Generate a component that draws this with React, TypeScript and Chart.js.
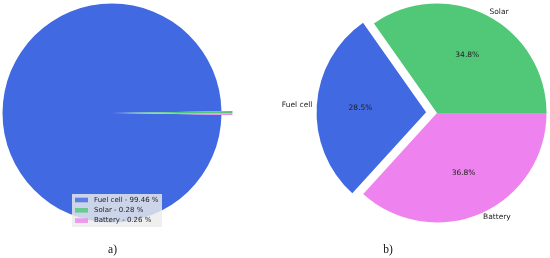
import React, { useEffect, useRef } from "react";
import { Chart, ArcElement, PieController } from "chart.js";

Chart.register(ArcElement, PieController);

// ---- data ----
const sourceLabels = ["Fuel cell", "Solar", "Battery"];
const sourceColors = ["#4169E1", "#50C878", "#EE82EE"];
const shareA = [99.46, 0.28, 0.26];
const shareB = [28.5, 34.8, 36.8];
const explodeA = [0, 0.1, 0.1];
const explodeB = [0.1, 0, 0];
const captionA = "a)";
const captionB = "b)";

const sum = (a: number[]) => a.reduce((s, v) => s + v, 0);

// pure-translation explode (matplotlib style)
const explodePlugin = {
  id: "explode",
  afterDatasetUpdate(chart: any, args: any, opts: any) {
    const fr: number[] = opts.fractions || [];
    const meta = chart.getDatasetMeta(args.index);
    meta.data.forEach((arc: any, i: number) => {
      const f = fr[i] || 0;
      if (!f) return;
      const mid = (arc.startAngle + arc.endAngle) / 2;
      const d = f * arc.outerRadius;
      arc.x += Math.cos(mid) * d;
      arc.y += Math.sin(mid) * d;
    });
  },
};

const sliceLabelPlugin = {
  id: "sliceLabels",
  afterDatasetsDraw(chart: any, _args: any, opts: any) {
    if (!opts || !opts.enabled) return;
    const ctx = chart.ctx;
    const meta = chart.getDatasetMeta(0);
    const values: number[] = chart.data.datasets[0].data;
    const total = sum(values);
    ctx.save();
    ctx.font = opts.font;
    ctx.fillStyle = opts.color;
    ctx.textBaseline = "middle";
    meta.data.forEach((arc: any, i: number) => {
      const mid = (arc.startAngle + arc.endAngle) / 2;
      const c = Math.cos(mid);
      const s = Math.sin(mid);
      const R = arc.outerRadius;
      ctx.textAlign = "center";
      ctx.fillText(
        `${((values[i] / total) * 100).toFixed(1)}%`,
        arc.x + c * R * opts.pctDistance,
        arc.y + s * R * opts.pctDistance
      );
      ctx.textAlign = c < 0 ? "right" : "left";
      ctx.fillText(
        chart.data.labels[i],
        arc.x + c * R * opts.labelDistance,
        arc.y + s * R * opts.labelDistance
      );
    });
    ctx.restore();
  },
};

const boxLegendPlugin = {
  id: "boxLegend",
  afterDatasetsDraw(chart: any, _args: any, opts: any) {
    if (!opts || !opts.enabled) return;
    const ctx = chart.ctx;
    const values: number[] = chart.data.datasets[0].data;
    const colors: string[] = chart.data.datasets[0].backgroundColor;
    const labels: string[] = chart.data.labels;
    ctx.save();
    ctx.fillStyle = opts.background;
    ctx.fillRect(opts.x, opts.y, opts.width, opts.height);
    ctx.font = opts.font;
    ctx.textBaseline = "middle";
    ctx.textAlign = "left";
    labels.forEach((lab, i) => {
      const cy = opts.y + opts.firstRow + i * opts.rowGap;
      ctx.globalAlpha = 0.8;
      ctx.fillStyle = colors[i];
      ctx.fillRect(opts.x + 3, cy - 2.3, 13, 4.6);
      ctx.globalAlpha = 1;
      ctx.fillStyle = opts.color;
      ctx.fillText(`${lab} - ${values[i].toFixed(2)} %`, opts.x + 22, cy);
    });
    ctx.restore();
  },
};

function makePie(
  canvas: HTMLCanvasElement,
  values: number[],
  explode: number[],
  rotation: number,
  padding: any,
  extra: any
) {
  return new Chart(canvas, {
    type: "pie",
    data: {
      labels: sourceLabels,
      datasets: [
        {
          data: values,
          backgroundColor: sourceColors,
          borderWidth: 0,
          clip: false as any,
        },
      ],
    },
    options: {
      responsive: false,
      animation: false,
      events: [],
      rotation,
      radius: 109.5,
      layout: { padding },
      plugins: {
        legend: { display: false },
        tooltip: { enabled: false },
        explode: { fractions: explode },
        ...extra,
      } as any,
    } as any,
    plugins: [explodePlugin, sliceLabelPlugin, boxLegendPlugin],
  });
}

export default function App() {
  const refA = useRef<HTMLCanvasElement>(null);
  const refB = useRef<HTMLCanvasElement>(null);

  useEffect(() => {
    const totA = sum(shareA);
    const rotA = 90 - (360 * (shareA[0] + (shareA[1] + shareA[2]) / 2)) / totA;
    const totB = sum(shareB);
    const rotB = 90 - (360 * (shareB[0] + shareB[1])) / totB;

    const a = makePie(
      refA.current!,
      shareA,
      explodeA,
      rotA,
      { left: 0, top: 0, right: 51, bottom: 32 },
      {
        boxLegend: {
          enabled: true,
          x: 72,
          y: 194,
          width: 90,
          height: 33,
          firstRow: 6,
          rowGap: 10.3,
          background: "rgba(236,236,236,0.82)",
          font: '7px "DejaVu Sans"',
          color: "#222",
        },
      }
    );
    const b = makePie(
      refB.current!,
      shareB,
      explodeB,
      rotB,
      { left: 50, top: 0, right: 1, bottom: 32 },
      {
        sliceLabels: {
          enabled: true,
          pctDistance: 0.6,
          labelDistance: 1.04,
          font: '7.5px "DejaVu Sans"',
          color: "#222",
        },
      }
    );
    return () => {
      a.destroy();
      b.destroy();
    };
  }, []);

  const capStyle: React.CSSProperties = {
    position: "absolute",
    top: 242,
    width: 40,
    textAlign: "center",
    fontFamily: '"Liberation Serif", serif',
    fontSize: "11.5px",
    lineHeight: "14px",
    color: "#111",
  };

  return (
    <div
      style={{
        position: "absolute",
        left: 0,
        top: 0,
        width: 550,
        height: 258,
        background: "#fff",
        overflow: "hidden",
      }}
    >
      <canvas
        ref={refA}
        width={275}
        height={258}
        style={{ position: "absolute", left: 0, top: 0 }}
      />
      <canvas
        ref={refB}
        width={275}
        height={258}
        style={{ position: "absolute", left: 275, top: 0 }}
      />
      <div style={{ ...capStyle, left: 92.5 }}>{captionA}</div>
      <div style={{ ...capStyle, left: 368 }}>{captionB}</div>
    </div>
  );
}
